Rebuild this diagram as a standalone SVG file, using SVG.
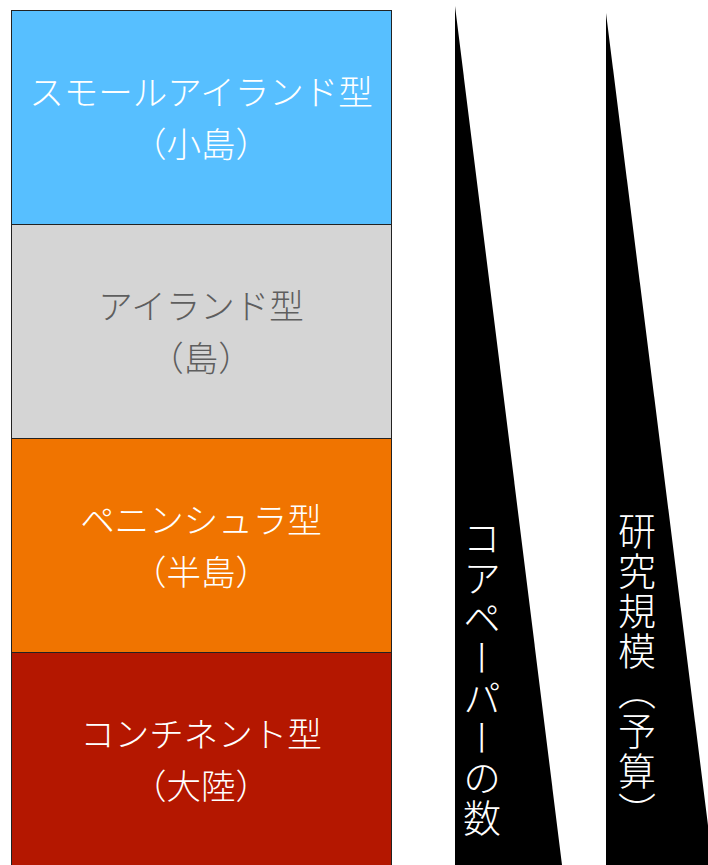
<svg xmlns="http://www.w3.org/2000/svg" width="708" height="865" viewBox="0 0 708 865">
<style>
.box{stroke:#222;stroke-width:1}
.lbl{font-family:"Noto Sans CJK JP","Noto Sans",sans-serif;font-size:34.5px;font-weight:300;text-anchor:middle;fill:#fff}
.dark{fill:#5E5E5E}
.vt{font-family:"Noto Sans CJK JP","Noto Sans",sans-serif;font-size:38px;font-weight:300;fill:#fff;writing-mode:vertical-rl}
</style>
<rect width="708" height="865" fill="#fff"/>
<g id="small-island">
<rect class="box" x="11.5" y="10.5" width="380" height="214" fill="#57BFFF"/>
<text class="lbl" x="201" y="105">スモールアイランド型</text>
<text class="lbl" x="201" y="157">（小島）</text>
</g>
<g id="island">
<rect class="box" x="11.5" y="224.5" width="380" height="214" fill="#D5D5D5"/>
<text class="lbl dark" x="201" y="319">アイランド型</text>
<text class="lbl dark" x="201" y="371">（島）</text>
</g>
<g id="peninsula">
<rect class="box" x="11.5" y="438.5" width="380" height="214" fill="#F07400"/>
<text class="lbl" x="201" y="533">ペニンシュラ型</text>
<text class="lbl" x="201" y="585">（半島）</text>
</g>
<g id="continent">
<rect class="box" x="11.5" y="652.5" width="380" height="214" fill="#B41700"/>
<text class="lbl" x="201" y="747">コンチネント型</text>
<text class="lbl" x="201" y="799">（大陸）</text>
</g>
<g id="core-papers">
<polygon points="455,6 562,865 455,865" fill="#000"/>
<text class="vt" x="482" y="519 559 599 639 679 719 759 799">コアペーパーの数</text>
</g>
<g id="research-scale">
<polygon points="606,13 713,865 606,865" fill="#000"/>
<text class="vt" x="637" y="512 552 592 632 672 712 752 792">研究規模（予算）</text>
</g>
<g id="connectors"></g>
</svg>
